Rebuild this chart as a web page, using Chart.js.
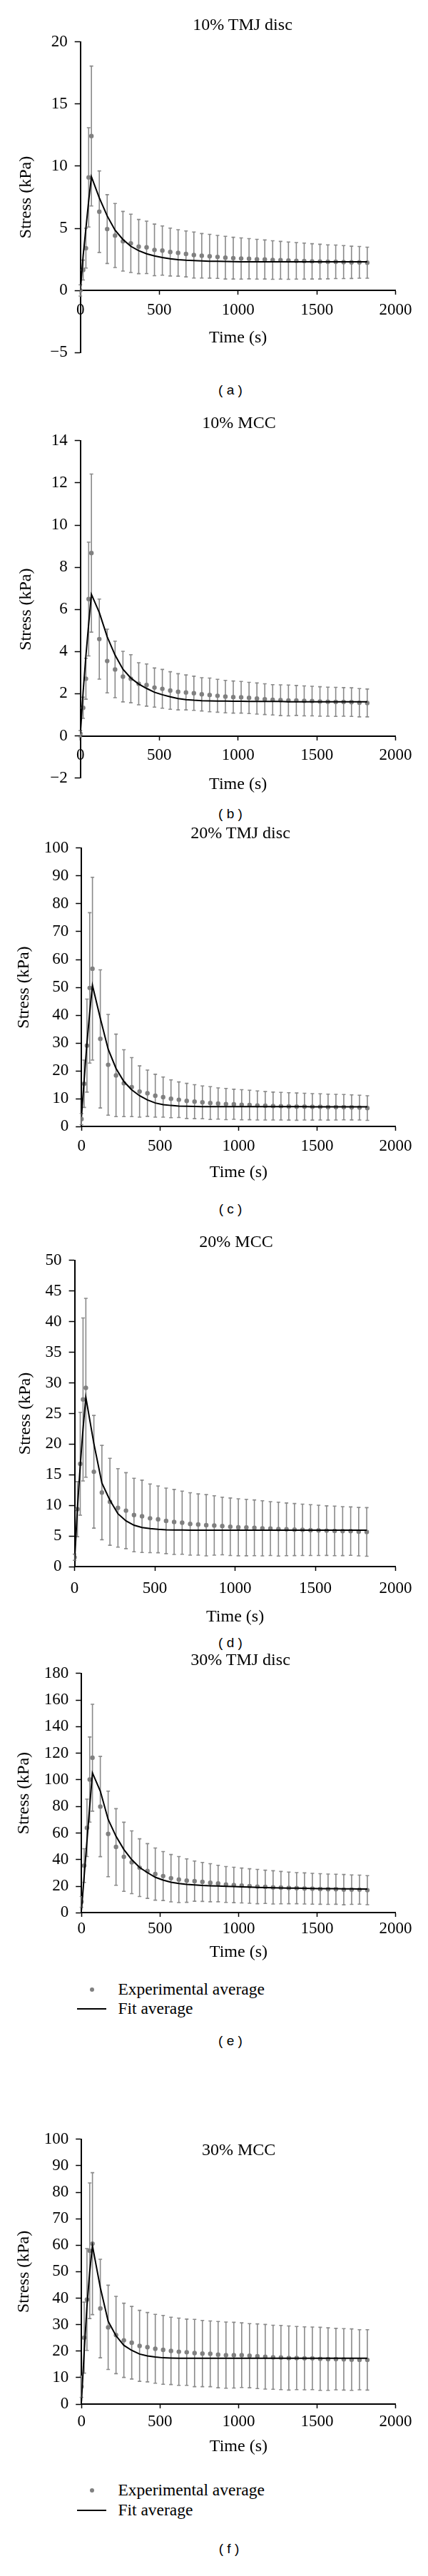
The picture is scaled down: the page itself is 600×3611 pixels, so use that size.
<!DOCTYPE html>
<html>
<head>
<meta charset="utf-8">
<script src="https://cdn.jsdelivr.net/npm/chart.js@4.4.0/dist/chart.umd.min.js"></script>
<style>
  body { margin: 0; background: #fff; }
  #page { position: relative; width: 600px; height: 3611px; overflow: hidden; }
  #page canvas { position: absolute; left: 0; }
  .lbl { position: absolute; transform: translate(-50%, -50%); white-space: nowrap; line-height: 1; color: #000; }
  .serif { font-family: "Liberation Serif", "DejaVu Serif", serif; font-size: 24px; }
  .cap { font-family: "Liberation Sans", Arial, sans-serif; font-size: 19px; }
  .leg { position: absolute; transform: translateY(-50%); white-space: nowrap; line-height: 1;
         font-family: "Liberation Serif", "DejaVu Serif", serif; font-size: 23.5px; color: #000; }
  .dot { position: absolute; width: 6px; height: 6px; border-radius: 50%; background: #808080; transform: translate(-50%, -50%); }
  .fitline { position: absolute; height: 2px; background: #000; transform: translateY(-50%); }
</style>
</head>
<body>
<div id="page"></div>
<script>
// sample times (s): ramp, then every 50 s of relaxation
const timeS = [0, 17.5, 35, 52.5, 70, 120, 170, 220, 270, 320, 370, 420, 470, 520, 570, 620, 670, 720, 770, 820,
  870, 920, 970, 1020, 1070, 1120, 1170, 1220, 1270, 1320, 1370, 1420, 1470, 1520, 1570, 1620, 1670, 1720, 1770, 1820];
const xTicks = [0, 500, 1000, 1500, 2000];

// 10% TMJ disc
const tmj10Mean = [0, 1.64, 3.4, 9.1, 12.43, 6.34, 4.94, 4.42, 3.96, 3.79, 3.53, 3.47, 3.26, 3.21, 3.09, 3.02, 2.94, 2.85, 2.79, 2.75,
  2.70, 2.64, 2.60, 2.57, 2.55, 2.51, 2.49, 2.45, 2.43, 2.40, 2.38, 2.36, 2.34, 2.32, 2.30, 2.30, 2.28, 2.26, 2.26, 2.23];
const tmj10Sd = [0.45, 0.8, 1.6, 4.0, 5.63, 3.28, 2.77, 2.58, 2.4, 2.35, 2.18, 2.11, 2.08, 1.98, 1.93, 1.87, 1.85, 1.85, 1.79, 1.76,
  1.73, 1.72, 1.68, 1.66, 1.62, 1.6, 1.57, 1.55, 1.52, 1.5, 1.47, 1.45, 1.42, 1.40, 1.37, 1.35, 1.33, 1.30, 1.28, 1.25];
const tmj10Fit = [0, 2.8, 5.0, 7.2, 9.15, 7.45, 6.0, 4.85, 4.1, 3.55, 3.2, 2.95, 2.78, 2.65, 2.55, 2.48, 2.43, 2.40, 2.37, 2.35,
  2.34, 2.33, 2.32, 2.31, 2.31, 2.30, 2.30, 2.30, 2.30, 2.30, 2.30, 2.30, 2.30, 2.30, 2.30, 2.30, 2.30, 2.30, 2.30, 2.30];
const yTicksA = [-5, 0, 5, 10, 15, 20];

// 10% MCC
const mcc10Mean = [0.1, 1.33, 2.71, 6.49, 8.67, 4.59, 3.55, 3.15, 2.81, 2.71, 2.47, 2.41, 2.29, 2.23, 2.15, 2.09, 2.06, 2.02, 1.97, 1.94,
  1.90, 1.86, 1.84, 1.83, 1.80, 1.77, 1.74, 1.71, 1.69, 1.68, 1.68, 1.66, 1.65, 1.63, 1.62, 1.61, 1.61, 1.60, 1.57, 1.56];
const mcc10Sd = [0.15, 0.5, 0.97, 2.7, 3.75, 1.9, 1.51, 1.34, 1.2, 1.14, 1.0, 1.0, 0.93, 0.92, 0.89, 0.86, 0.83, 0.81, 0.79, 0.8,
  0.78, 0.77, 0.76, 0.75, 0.74, 0.74, 0.73, 0.72, 0.73, 0.73, 0.71, 0.71, 0.70, 0.70, 0.69, 0.69, 0.68, 0.68, 0.67, 0.66];
const mcc10Fit = [0.1, 2.1, 3.8, 5.3, 6.71, 5.85, 4.7, 3.83, 3.16, 2.74, 2.46, 2.25, 2.07, 1.95, 1.85, 1.77, 1.72, 1.69, 1.67, 1.66,
  1.65, 1.65, 1.64, 1.64, 1.63, 1.63, 1.63, 1.63, 1.63, 1.62, 1.62, 1.62, 1.62, 1.62, 1.62, 1.62, 1.62, 1.62, 1.62, 1.62];
const yTicksB = [-2, 0, 2, 4, 6, 8, 10, 12, 14];

// 20% TMJ disc
const tmj20Mean = [2.7, 15.4, 29.1, 49.8, 56.7, 31.5, 22.2, 18.4, 15.6, 14.2, 12.6, 12.0, 11.1, 10.6, 10.0, 9.66, 9.23, 8.97, 8.72, 8.46,
  8.29, 8.12, 8.03, 7.86, 7.78, 7.6, 7.5, 7.4, 7.35, 7.26, 7.18, 7.18, 7.1, 7.1, 7.0, 7.0, 7.0, 6.92, 6.84, 6.67];
const tmj20Sd = [2, 8.5, 16.7, 27, 32.8, 24.8, 18.1, 14.8, 12, 10.6, 9.2, 8.3, 7.7, 7.2, 6.8, 6.4, 6.3, 6.1, 5.9, 5.9,
  5.6, 5.6, 5.4, 5.4, 5.3, 5.2, 5.1, 5.0, 4.95, 4.9, 4.9, 4.8, 4.75, 4.7, 4.65, 4.6, 4.55, 4.5, 4.45, 4.4];
const tmj20Fit = [3.5, 17, 30, 41, 50.7, 38.9, 27.8, 20.9, 16.2, 13.2, 11.1, 9.6, 8.5, 7.9, 7.6, 7.4, 7.3, 7.25, 7.2, 7.2,
  7.2, 7.2, 7.2, 7.2, 7.2, 7.2, 7.2, 7.2, 7.2, 7.2, 7.2, 7.2, 7.15, 7.15, 7.15, 7.15, 7.15, 7.15, 7.15, 7.15];
const yTicksC = [0, 10, 20, 30, 40, 50, 60, 70, 80, 90, 100];

// 20% MCC
const mcc20Mean = [1.55, 9.4, 16.8, 27.3, 29.2, 15.5, 12.1, 10.6, 9.6, 9.15, 8.44, 8.23, 7.9, 7.73, 7.48, 7.31, 7.18, 6.98, 6.89, 6.77,
  6.73, 6.64, 6.52, 6.43, 6.39, 6.35, 6.27, 6.22, 6.14, 6.10, 6.06, 6.02, 5.97, 5.93, 5.89, 5.85, 5.81, 5.81, 5.72, 5.68];
const mcc20Sd = [0.5, 4.5, 8.4, 13.3, 14.6, 9.2, 7.7, 7.1, 6.4, 6.2, 6.0, 5.9, 5.6, 5.45, 5.35, 5.3, 5.15, 5.1, 5.0, 5.0,
  4.85, 4.7, 4.7, 4.65, 4.6, 4.55, 4.5, 4.4, 4.4, 4.3, 4.25, 4.2, 4.15, 4.1, 4.05, 4.05, 4.0, 3.95, 3.95, 3.97];
const mcc20Fit = [1, 9.5, 16.5, 22.5, 27.65, 20.1, 13.66, 10.86, 8.65, 7.48, 6.77, 6.4, 6.22, 6.1, 6.03, 6.0, 5.98, 5.97, 5.97, 5.97,
  5.97, 5.97, 5.97, 5.97, 5.97, 5.97, 5.97, 5.97, 5.97, 5.97, 5.97, 5.97, 5.97, 5.97, 5.97, 5.97, 5.97, 5.97, 5.97, 5.97];
const yTicksD = [0, 5, 10, 15, 20, 25, 30, 35, 40, 45, 50];

// 30% TMJ disc
const tmj30Mean = [8.2, 35.5, 63.9, 100.2, 116.6, 79.9, 59.3, 49.5, 42.1, 38.0, 33.9, 31.4, 29.1, 27.6, 26.0, 25.0, 24.2, 23.8, 23.2, 22.6,
  22.0, 21.3, 20.9, 20.5, 20.1, 19.7, 19.5, 19.1, 18.9, 18.7, 18.5, 18.3, 18.1, 17.9, 17.7, 17.7, 17.4, 17.4, 17.4, 17.0];
const tmj30Sd = [4, 12.7, 21.6, 32, 40.2, 37.7, 32.2, 28.8, 26, 23.6, 21.7, 20.6, 19.6, 18.4, 17.8, 17.3, 16.3, 15.1, 14.65, 14.3,
  13.7, 13.5, 13.3, 13.1, 13.0, 12.9, 12.5, 12.5, 12.2, 11.9, 11.7, 11.7, 11.6, 11.5, 11.4, 11.3, 11.4, 11.1, 10.9, 10.9];
const tmj30Fit = [2, 28, 54, 80, 105.2, 91.5, 70.2, 57.5, 47.6, 40.0, 34.1, 30.2, 26.7, 24.6, 23.0, 22.0, 21.3, 20.9, 20.5, 20.3,
  20.1, 19.9, 19.7, 19.5, 19.3, 19.1, 18.9, 18.8, 18.7, 18.6, 18.5, 18.4, 18.3, 18.2, 18.1, 18.1, 18.0, 18.0, 17.9, 17.9];
const yTicksE = [0, 20, 40, 60, 80, 100, 120, 140, 160, 180];

// 30% MCC
const mcc30Mean = [6.6, 25.1, 39.5, 57.9, 60.6, 36.1, 29.0, 26.1, 24.1, 23.2, 22.0, 21.5, 20.9, 20.5, 20.1, 19.8, 19.6, 19.3, 19.1, 19.0,
  18.7, 18.5, 18.5, 18.5, 18.3, 18.1, 17.9, 17.7, 17.6, 17.4, 17.4, 17.3, 17.3, 17.1, 17.0, 17.0, 16.9, 16.8, 16.75, 16.7];
const mcc30Sd = [4, 13.4, 19.2, 25.6, 26.8, 18.6, 15.9, 14.6, 14.0, 13.7, 13.4, 13.1, 13.0, 13.0, 12.7, 12.7, 12.5, 12.7, 12.5, 12.4,
  12.5, 12.5, 12.4, 12.2, 12.1, 12.2, 12.2, 12.1, 12.1, 12.1, 11.9, 11.9, 11.8, 11.9, 11.8, 11.6, 11.6, 11.6, 11.35, 11.4];
const mcc30Fit = [1, 20, 37, 50, 59.8, 44, 31.3, 25.8, 22.2, 20.3, 18.9, 18.2, 17.8, 17.5, 17.4, 17.3, 17.3, 17.3, 17.3, 17.3,
  17.3, 17.3, 17.3, 17.3, 17.3, 17.3, 17.3, 17.3, 17.3, 17.3, 17.3, 17.3, 17.3, 17.3, 17.3, 17.3, 17.3, 17.3, 17.3, 17.3];
const yTicksF = [0, 10, 20, 30, 40, 50, 60, 70, 80, 90, 100];

const titles = ['10% TMJ disc', '10% MCC', '20% TMJ disc', '20% MCC', '30% TMJ disc', '30% MCC'];
const captions = ['( a )', '( b )', '( c )', '( d )', '( e )', '( f )'];
const expLabel = 'Experimental average';
const fitLabel = 'Fit average';

// page geometry of each panel (pixels)
const panels = [
  { mean: tmj10Mean, sd: tmj10Sd, fit: tmj10Fit, yTicks: yTicksA, left: 112.7, top: 56.5, bottom: 499.2,
    labelGap: 27.7, timeGap: 66.2, yTitleX: 36.5, titleAt: [340, 34], captionAt: [323, 546] },
  { mean: mcc10Mean, sd: mcc10Sd, fit: mcc10Fit, yTicks: yTicksB, left: 112.7, top: 615.8, bottom: 1090.4,
    labelGap: 27.6, timeGap: 67.8, yTitleX: 36.5, titleAt: [335, 591.5], captionAt: [323, 1140] },
  { mean: tmj20Mean, sd: tmj20Sd, fit: tmj20Fit, yTicks: yTicksC, left: 114.2, top: 1186.9, bottom: 1579.2,
    labelGap: 28.1, timeGap: 64.6, yTitleX: 34, titleAt: [337, 1167], captionAt: [323, 1694] },
  { mean: mcc20Mean, sd: mcc20Sd, fit: mcc20Fit, yTicks: yTicksD, left: 104.6, top: 1765, bottom: 2196.2,
    labelGap: 30.3, timeGap: 70.8, yTitleX: 35.4, titleAt: [331, 1740], captionAt: [323, 2302] },
  { mean: tmj30Mean, sd: tmj30Sd, fit: tmj30Fit, yTicks: yTicksE, left: 114.2, top: 2344.2, bottom: 2681.5,
    labelGap: 22.3, timeGap: 55, yTitleX: 34, titleAt: [337, 2326], captionAt: [323, 2860],
    legendAt: [2789, 2816] },
  { mean: mcc30Mean, sd: mcc30Sd, fit: mcc30Fit, yTicks: yTicksF, left: 114.2, top: 2997.3, bottom: 3370.4,
    labelGap: 25, timeGap: 59.6, yTitleX: 34, titleAt: [334.6, 3012.7], captionAt: [321, 3572],
    legendAt: [3491, 3518.5] }
];
const plotRight = 554.6;
const serif = '"Liberation Serif", "DejaVu Serif", serif';
const tickSize = 23, titleSize = 24;

const errorBars = {
  id: 'errorBars',
  beforeDatasetsDraw(chart) {
    const { ctx, scales: { x, y } } = chart;
    const ds = chart.data.datasets.find(d => d.errors);
    ctx.save();
    ctx.strokeStyle = '#8a8a8a';
    ctx.lineWidth = 1.6;
    ds.data.forEach((p, i) => {
      const e = ds.errors[i];
      const px = x.getPixelForValue(p.x);
      const hi = y.getPixelForValue(p.y + e);
      const lo = y.getPixelForValue(p.y - e);
      ctx.beginPath();
      ctx.moveTo(px, hi); ctx.lineTo(px, lo);
      ctx.moveTo(px - 2.5, hi); ctx.lineTo(px + 2.5, hi);
      ctx.moveTo(px - 2.5, lo); ctx.lineTo(px + 2.5, lo);
      ctx.stroke();
    });
    ctx.restore();
  }
};

const page = document.getElementById('page');

function addText(cls, text, x, y) {
  const d = document.createElement('div');
  d.className = 'lbl ' + cls;
  d.textContent = text;
  d.style.left = x + 'px';
  d.style.top = y + 'px';
  page.appendChild(d);
}

panels.forEach((p, k) => {
  const yMin = p.yTicks[0], yMax = p.yTicks[p.yTicks.length - 1];
  const zeroPx = p.top + (yMax / (yMax - yMin)) * (p.bottom - p.top);
  const canvasTop = p.top - 22;
  const canvasBottom = Math.max(p.bottom + 18, zeroPx + p.timeGap + 22);

  const canvas = document.createElement('canvas');
  canvas.width = 600;
  canvas.height = Math.round(canvasBottom - canvasTop);
  canvas.style.top = canvasTop + 'px';
  page.appendChild(canvas);

  const tickLenX = 5, tickLenY = 8;
  new Chart(canvas, {
    type: 'scatter',
    data: {
      datasets: [
        {
          label: fitLabel,
          data: timeS.map((t, i) => ({ x: t, y: p.fit[i] })),
          showLine: true,
          borderColor: '#000',
          borderWidth: 2,
          pointRadius: 0,
          tension: 0,
          order: 0
        },
        {
          label: expLabel,
          data: timeS.map((t, i) => ({ x: t, y: p.mean[i] })),
          errors: p.sd,
          pointRadius: 3.2,
          pointBackgroundColor: '#808080',
          pointBorderWidth: 0,
          order: 1
        }
      ]
    },
    options: {
      responsive: false,
      animation: false,
      events: [],
      layout: { padding: { left: 0, top: 22, right: 600 - plotRight, bottom: canvas.height - 22 - (p.bottom - p.top) } },
      plugins: { legend: { display: false }, tooltip: { enabled: false } },
      scales: {
        x: {
          type: 'linear',
          position: { y: 0 },
          min: xTicks[0],
          max: xTicks[xTicks.length - 1],
          afterBuildTicks: s => { s.ticks = xTicks.map(v => ({ value: v })); },
          afterFit: s => { s.height = p.timeGap + titleSize * 0.6; },
          border: { display: true, color: '#000', width: 2 },
          grid: { display: true, drawOnChartArea: false, drawTicks: true, tickLength: tickLenX, tickColor: '#000', tickWidth: 1.5 },
          ticks: {
            color: '#000', font: { family: serif, size: tickSize }, maxRotation: 0, autoSkip: false,
            padding: p.labelGap - tickLenX - tickSize * 0.6,
            callback: v => String(v)
          },
          title: { display: true, text: 'Time (s)', color: '#000', font: { family: serif, size: titleSize }, padding: 0 }
        },
        y: {
          type: 'linear',
          position: 'left',
          min: yMin,
          max: yMax,
          afterBuildTicks: s => { s.ticks = p.yTicks.map(v => ({ value: v })); },
          afterFit: s => { s.width = p.left; },
          border: { display: true, color: '#000', width: 2 },
          grid: { display: true, drawOnChartArea: false, drawTicks: true, tickLength: tickLenY, tickColor: '#000', tickWidth: 1.5 },
          ticks: {
            color: '#000', font: { family: serif, size: tickSize }, autoSkip: false, padding: 10,
            callback: v => String(v).replace('-', '\u2212')
          },
          title: {
            display: true, text: 'Stress (kPa)', color: '#000', font: { family: serif, size: titleSize },
            padding: { top: p.yTitleX - titleSize * 0.6, bottom: 0 }
          }
        }
      }
    },
    plugins: [errorBars]
  });

  addText('serif', titles[k], p.titleAt[0], p.titleAt[1]);
  addText('cap', captions[k], p.captionAt[0], p.captionAt[1]);

  if (p.legendAt) {
    const dot = document.createElement('div');
    dot.className = 'dot';
    dot.style.left = '128.8px';
    dot.style.top = p.legendAt[0] + 'px';
    page.appendChild(dot);
    const line = document.createElement('div');
    line.className = 'fitline';
    line.style.left = '107.7px';
    line.style.width = '41.5px';
    line.style.top = p.legendAt[1] + 'px';
    page.appendChild(line);
    [expLabel, fitLabel].forEach((t, j) => {
      const d = document.createElement('div');
      d.className = 'leg';
      d.textContent = t;
      d.style.left = '165.4px';
      d.style.top = p.legendAt[j] + 'px';
      page.appendChild(d);
    });
  }
});
</script>
</body>
</html>
